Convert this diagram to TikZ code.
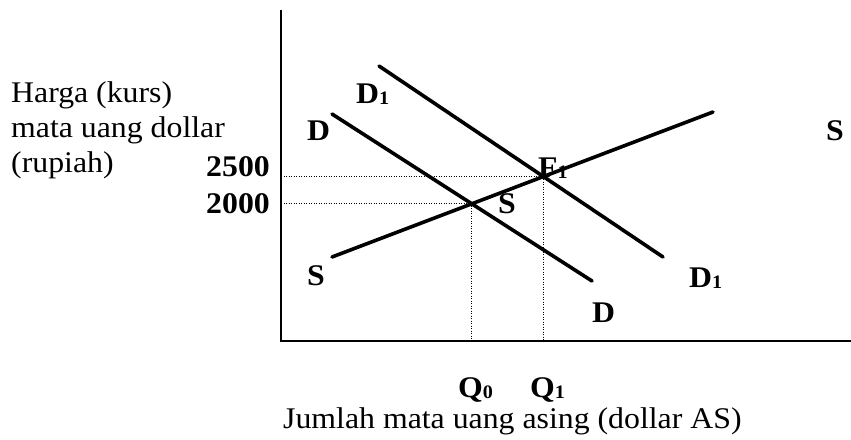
\documentclass[tikz,border=0pt]{standalone}
\usepackage{fontspec}
\setmainfont{Liberation Serif}[FakeStretch=1.06]
\begin{document}
\begin{tikzpicture}[x=1pt,y=-1pt,
  txt/.style={inner sep=0pt, anchor=base west, font=\fontsize{30}{35}\selectfont},
  lbl/.style={inner sep=0pt, anchor=base west, font=\fontsize{30}{35}\selectfont\bfseries},
  curve/.style={line width=3.6pt, line cap=round},
  axis/.style={line width=2.4pt},
  guide/.style={line width=1.3pt, dash pattern=on 1.2pt off 1.3pt}]
\useasboundingbox (0,0) rectangle (851,439);
% axes
\coordinate (ytop) at (281,10);
\coordinate (O) at (281,341);
\coordinate (xend) at (851,341);
\draw[axis] (ytop) -- (O) -- (xend);
% curves
\coordinate (d1a) at (379,66);
\coordinate (d1b) at (663,257);
\coordinate (da) at (332,114);
\coordinate (db) at (592,281);
\coordinate (sa) at (332,257);
\coordinate (sb) at (713,112);
\draw[curve] (d1a) -- (d1b);
\draw[curve] (da) -- (db);
\draw[curve] (sa) -- (sb);
\coordinate (E1) at (intersection of d1a--d1b and sa--sb);
\coordinate (E0) at (intersection of da--db and sa--sb);
% guides
\draw[guide] (O |- E1) -- (E1) -- (E1 |- O);
\draw[guide] (O |- E0) -- (E0) -- (E0 |- O);
% left text
\node[txt] (h1) at (11,102) {Harga (kurs)};
\node[txt] (h2) at (11,137) {mata uang dollar};
\node[txt] (h3) at (11,172) {(rupiah)};
\node[lbl, anchor=base east] (p2500) at (270,176) {2500};
\node[lbl, anchor=base east] (p2000) at (270,213) {2000};
% curve labels
\node[lbl] (lD1t) at (356,103) {D\raisebox{-1pt}{\fontsize{19}{19}\selectfont 1}};
\node[lbl] (lDt) at (307,140) {D};
\node[lbl] (lF1) at (538,177) {F\raisebox{-1pt}{\fontsize{19}{19}\selectfont 1}};
\node[lbl] (lSm) at (498,213) {S};
\node[lbl] (lSr) at (826,140) {S};
\node[lbl] (lSb) at (307,285) {S};
\node[lbl] (lDb) at (592,322) {D};
\node[lbl] (lD1b) at (689,287) {D\raisebox{-1pt}{\fontsize{19}{19}\selectfont 1}};
\node[lbl] (lQ0) at (458,397) {Q\raisebox{-1pt}{\fontsize{19}{19}\selectfont 0}};
\node[lbl] (lQ1) at (530,397) {Q\raisebox{-1pt}{\fontsize{19}{19}\selectfont 1}};
\node[txt] (xlab) at (283,428) {Jumlah mata uang asing (dollar AS)};
\end{tikzpicture}
\end{document}
